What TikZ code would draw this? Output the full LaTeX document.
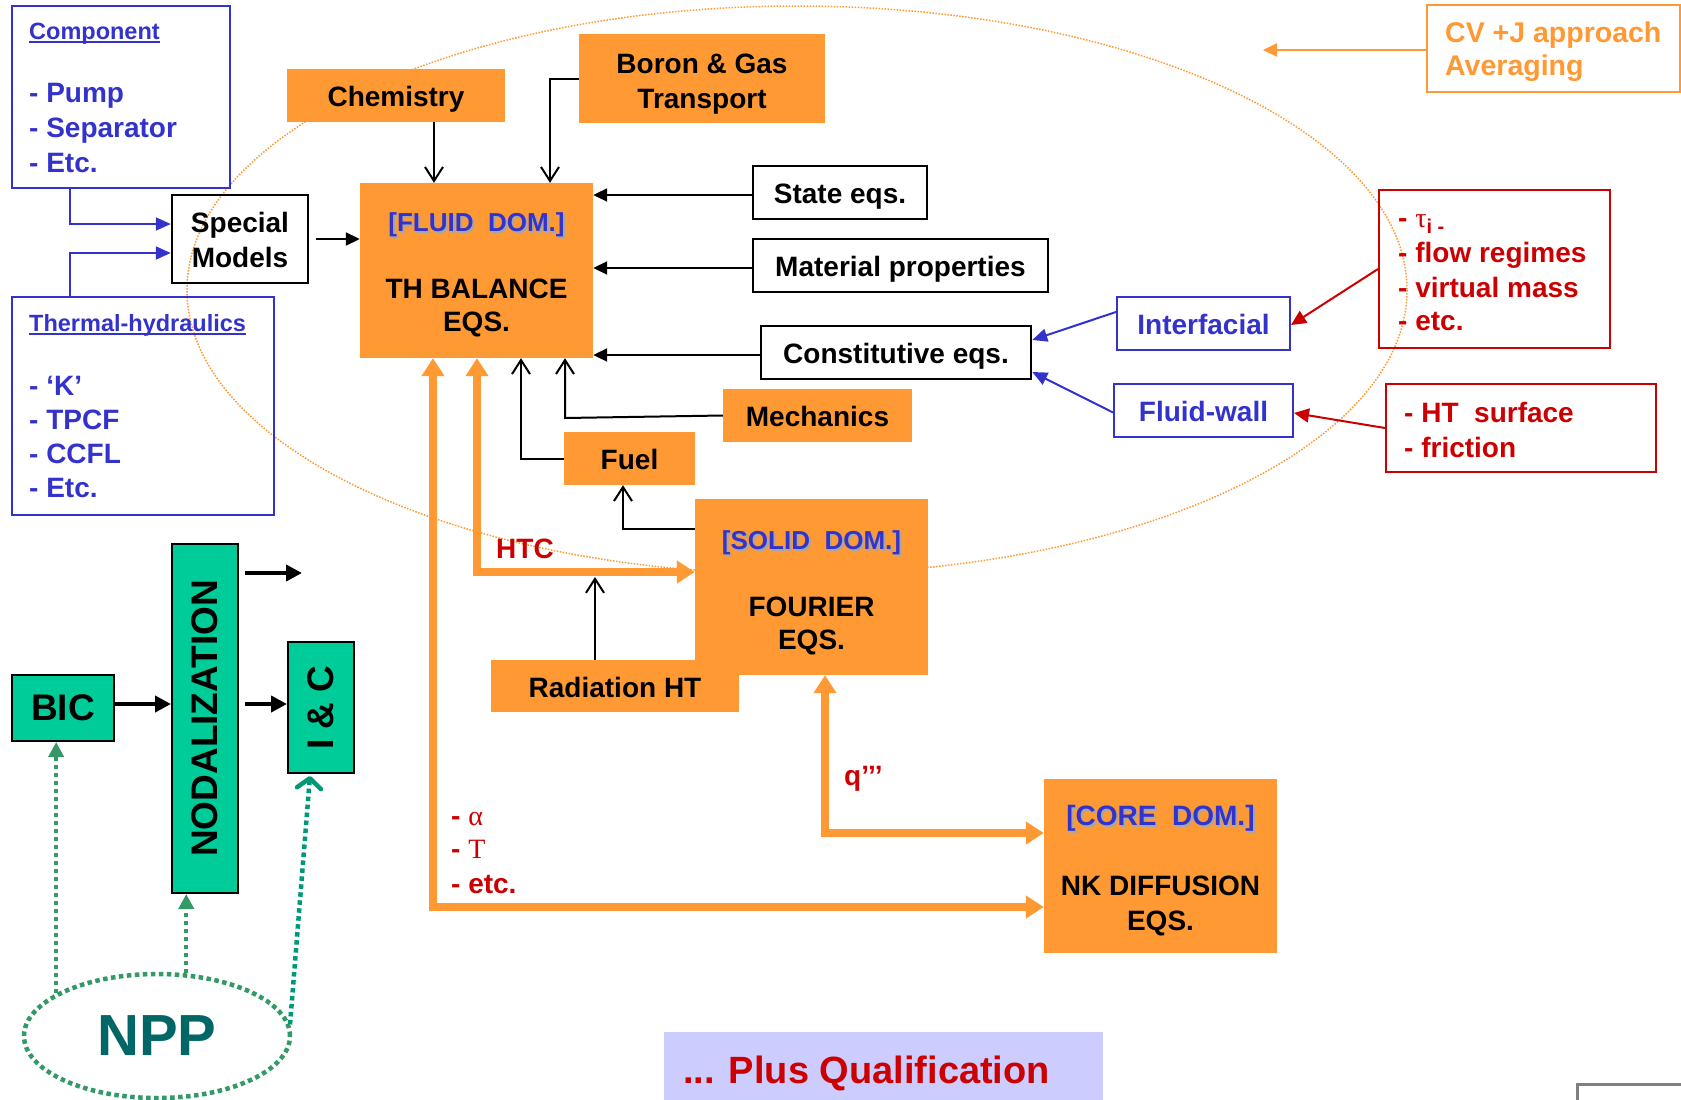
\documentclass[tikz,border=0pt]{standalone}
\usepackage{fontspec}
\setmainfont{Liberation Sans}
\newfontfamily\grk{Liberation Serif}
\usetikzlibrary{arrows.meta,shapes.geometric}
\definecolor{org}{HTML}{FF9933}
\definecolor{bluec}{HTML}{3333CC}
\definecolor{redc}{HTML}{CC0000}
\definecolor{grn}{HTML}{00CC99}
\definecolor{grnd}{HTML}{339966}
\definecolor{grnt}{HTML}{009977}
\definecolor{tealc}{HTML}{006666}
\definecolor{lav}{HTML}{CCCCFF}
\newcommand\shtxt[1]{\makebox[0pt][l]{\hspace{2pt}\raisebox{-2pt}{\color{black!35}#1}}{\color{bluec}#1}}
\begin{document}
\begin{tikzpicture}[x=1pt,y=-1pt,
  every node/.style={inner sep=0pt, font=\bfseries\fontsize{28}{34}\selectfont},
  sl/.style={text height=22pt, text depth=0pt},
  obox/.style={fill=org, align=center},
  wbox/.style={draw=black, line width=2.5pt, align=center},
  bbox/.style={draw=bluec, line width=2pt},
  rbox/.style={draw=redc, line width=2pt},
  gbox/.style={draw=black, line width=2pt, fill=grn, font=\bfseries\fontsize{37}{40}\selectfont},
  btxt/.style={text=bluec, anchor=base west},
  rtxt/.style={text=redc, anchor=base west},
  open/.style={draw=black, line width=2pt, -{Straight Barb[length=14pt,width=18pt]}},
  filled/.style={draw=black, line width=2pt, -{Triangle[length=14pt,width=13pt]}},
  bline/.style={draw=bluec, line width=2pt, -{Triangle[length=15pt,width=13pt]}},
  rline/.style={draw=redc, line width=2pt, -{Triangle[length=15pt,width=14pt]}},
  ora/.style={draw=org, line width=8pt, line join=miter, {Triangle[length=18pt,width=22pt]}-{Triangle[length=18pt,width=22pt]}},
  gdot/.style={draw=grnd, line width=4.5pt, dash pattern=on 4.5pt off 3.5pt},
  thick4/.style={draw=black, line width=4.5pt, -{Triangle[length=16pt,width=16pt]}}
]
\useasboundingbox (0,0) rectangle (1681,1100);
\fill[white] (0,0) rectangle (1681,1100);
\clip (0,0) rectangle (1681,1100);

% big dotted ellipse
\draw[org, line width=1.5pt, dash pattern=on 1.5pt off 1.5pt] (797,290) ellipse [x radius=610, y radius=284];

% orange boxes
\node[obox, sl, minimum width=218pt, minimum height=53pt] (chem) at (396,95.5) {Chemistry};
\node[obox, minimum width=246pt, minimum height=89pt, font=\bfseries\fontsize{28}{35}\selectfont] (boron) at (702,78.5) {\rule{0pt}{30pt}Boron \& Gas\\Transport};
\node[obox, minimum width=233pt, minimum height=175pt, font=\bfseries\fontsize{28}{33}\selectfont] (fluid) at (476.5,270.5)
  {{\fontsize{26}{33}\selectfont\rule{0pt}{28pt}\shtxt{[FLUID\ \ DOM.]}}\\[34pt]TH BALANCE\\EQS.};
\node[obox, minimum width=233pt, minimum height=176pt, font=\bfseries\fontsize{28}{33}\selectfont] (solid) at (811.5,587)
  {{\fontsize{26}{33}\selectfont\rule{0pt}{31pt}\shtxt{[SOLID\ \ DOM.]}}\\[34pt]FOURIER\\EQS.};
\node[obox, minimum width=233pt, minimum height=174pt, font=\bfseries\fontsize{28}{35}\selectfont] (core) at (1160.5,866)
  {\rule{0pt}{30pt}\shtxt{[CORE\ \ DOM.]}\\[35pt]NK DIFFUSION\\EQS.};
\node[obox, sl, minimum width=248pt, minimum height=52pt] (rad) at (615,686) {Radiation HT};
\node[obox, sl, minimum width=131pt, minimum height=53pt] (fuel) at (629.5,458.5) {Fuel};
\node[obox, sl, minimum width=189pt, minimum height=53pt] (mech) at (817.5,415.5) {Mechanics};

% white boxes
\node[wbox, sl, minimum width=174pt, minimum height=53pt] (state) at (840,192.5) {State eqs.};
\node[wbox, sl, minimum width=295pt, minimum height=53pt] (mat) at (900.5,265.5) {Material properties};
\node[wbox, sl, minimum width=270pt, minimum height=53pt] (const) at (896,352.5) {Constitutive eqs.};
\node[wbox, minimum width=136pt, minimum height=88pt, font=\bfseries\fontsize{28}{35}\selectfont] (special) at (240,239) {\rule{0pt}{22pt}Special\\Models};

% blue boxes
\node[bbox, sl, minimum width=173pt, minimum height=53pt, text=bluec] (interf) at (1203.5,323.5) {Interfacial};
\node[bbox, sl, minimum width=179pt, minimum height=53pt, text=bluec] (fw) at (1203.5,410.5) {Fluid-wall};
\node[bbox, minimum width=218pt, minimum height=182pt] (comp) at (121,97) {};
\node[bbox, minimum width=262pt, minimum height=218pt] (therm) at (143,406) {};

\node[btxt, font=\bfseries\fontsize{23.5}{28}\selectfont] (comptitle) at (29,39) {Component};
\draw[bluec, line width=2pt] ([yshift=-3pt]comptitle.base west) -- ([yshift=-3pt]comptitle.base east);
\node[btxt] (c1) at (29,102) {- Pump};
\node[btxt] (c2) at (29,137) {- Separator};
\node[btxt] (c3) at (29,172) {- Etc.};

\node[btxt, font=\bfseries\fontsize{23.5}{28}\selectfont] (thtitle) at (29,331) {Thermal-hydraulics};
\draw[bluec, line width=2pt] ([yshift=-3pt]thtitle.base west) -- ([yshift=-3pt]thtitle.base east);
\node[btxt] (t1) at (29,395) {- ‘K’};
\node[btxt] (t2) at (29,429) {- TPCF};
\node[btxt] (t3) at (29,463) {- CCFL};
\node[btxt] (t4) at (29,497) {- Etc.};

% red boxes
\node[rbox, minimum width=231pt, minimum height=158pt] (red1) at (1494.5,269) {};
\node[rbox, minimum width=270pt, minimum height=88pt] (red2) at (1521,428) {};
\node[rtxt] (r1) at (1398,227) {- {\mdseries\grk τ}{\fontsize{20}{20}\selectfont\raisebox{-6pt}{i -}}};
\node[rtxt] (r2) at (1398,262) {- flow regimes};
\node[rtxt] (r3) at (1398,297) {- virtual mass};
\node[rtxt] (r4) at (1398,330) {- etc.};
\node[rtxt] (r5) at (1404,422) {- HT\ \ surface};
\node[rtxt] (r6) at (1404,457) {- friction};

% CV box
\node[draw=org, line width=2pt, minimum width=253pt, minimum height=87pt] (cv) at (1553.5,48.5) {};
\node[text=org, anchor=base west, font=\bfseries\fontsize{28.5}{30}\selectfont] (cv1) at (1445,42) {CV +J approach};
\node[text=org, anchor=base west, font=\bfseries\fontsize{28.5}{30}\selectfont] (cv2) at (1445,75) {Averaging};
\coordinate (cvtip) at (1263,50);
\draw[org, line width=2.5pt, -{Triangle[length=14pt,width=13pt]}] (cv.west |- 0,50) -- (cvtip);

% labels
\node[rtxt] (htc) at (496,558) {HTC};
\node[rtxt] (qppp) at (844,785) {q’’’};
\node[rtxt] (la) at (451,825) {- {\mdseries\grk α}};
\node[rtxt] (lt) at (451,858) {- {\mdseries\grk T}};
\node[rtxt] (le) at (451,893) {- etc.};

% orange thick arrows
\draw[ora] (fluid.south -| 433,0) -- (433,907) -- (core.west |- 0,907);
\draw[ora] (fluid.south -| 477,0) -- (477,572) -- (solid.west |- 0,572);
\draw[ora] (solid.south -| 825,0) -- (825,833) -- (core.west |- 0,833);
\node[obox, sl, minimum width=248pt, minimum height=52pt] at (615,686) {Radiation HT};

% black arrows
\draw[open] (chem.south -| 434,0) -- (fluid.north -| 434,0);
\draw[open] (boron.west |- 0,79) -- (550,79) -- (fluid.north -| 550,0);
\draw[filled] (state.west |- 0,195) -- (fluid.east |- 0,195);
\draw[filled] (mat.west |- 0,268) -- (fluid.east |- 0,268);
\draw[filled] (const.west |- 0,355) -- (fluid.east |- 0,355);
\draw[filled, shorten <=7pt] (special.east) -- (fluid.west |- special.east);
\draw[open] (fuel.west) -- (fuel.west -| 521,0) -- (fluid.south -| 521,0);
\draw[open] (mech.west) -- (565,418) -- (fluid.south -| 565,0);
\draw[open] (solid.west |- 0,529) -- (623,529) -- (fuel.south -| 623,0);
\coordinate (htcline) at (595,577);
\draw[open] (rad.north -| 595,0) -- (htcline);

% blue arrows
\draw[bline] (comp.south -| 70,0) -- (70,224) -- (special.west |- 0,224);
\draw[bline] (therm.north -| 70,0) -- (70,253) -- (special.west |- 0,253);
\draw[bline] ([yshift=11.5pt]interf.west) -- ([yshift=12.5pt]const.east);
\draw[bline] ([yshift=-2pt]fw.west) -- ([yshift=-19.5pt]const.east);

% red arrows
\draw[rline] (red1.west) -- ([yshift=-1.5pt]interf.east);
\draw[rline] (red2.west) -- ([yshift=-2.5pt]fw.east);

% green part (rotated nodes: north = canvas west, west = canvas south)
\node[gbox, minimum width=349pt, minimum height=66pt, rotate=90] (nod) at (205,718.5) {NODALIZATION};
\node[gbox, minimum width=102pt, minimum height=66pt] (bic) at (63,708) {BIC};
\node[gbox, minimum width=131pt, minimum height=66pt, rotate=90] (ic) at (321,707.5) {I \& C};
\draw[thick4] (bic.east |- 0,704) -- (nod.north |- 0,704);
\draw[thick4] (245,704) -- (ic.north |- 0,704);
\coordinate (freetip) at (302,573);
\draw[thick4] (245,573) -- (freetip);

\node[ellipse, gdot, minimum width=266pt, minimum height=124pt, text=tealc, font=\bfseries\fontsize{58}{60}\selectfont] (npp) at (157,1036) {NPP};
\draw[gdot, -{Triangle[length=15pt,width=15pt]}] (npp.157) -- (npp.157 |- bic.south);
\draw[gdot, -{Triangle[length=15pt,width=15pt]}] (npp.65) -- (npp.65 |- nod.west);
\draw[gdot, draw=grnt, -{Straight Barb[length=10pt,width=24pt,round]}] (npp.5) -- (310,776);

% bottom
\node[fill=lav, minimum width=439pt, minimum height=90pt, anchor=north west] (plus) at (664,1032) {};
\node[rtxt, font=\bfseries\fontsize{38}{40}\selectfont] (plustxt) at (683,1083) {... Plus Qualification};
\draw[black!50, line width=3pt] (1577,1084) rectangle (1760,1160);
\end{tikzpicture}
\end{document}
